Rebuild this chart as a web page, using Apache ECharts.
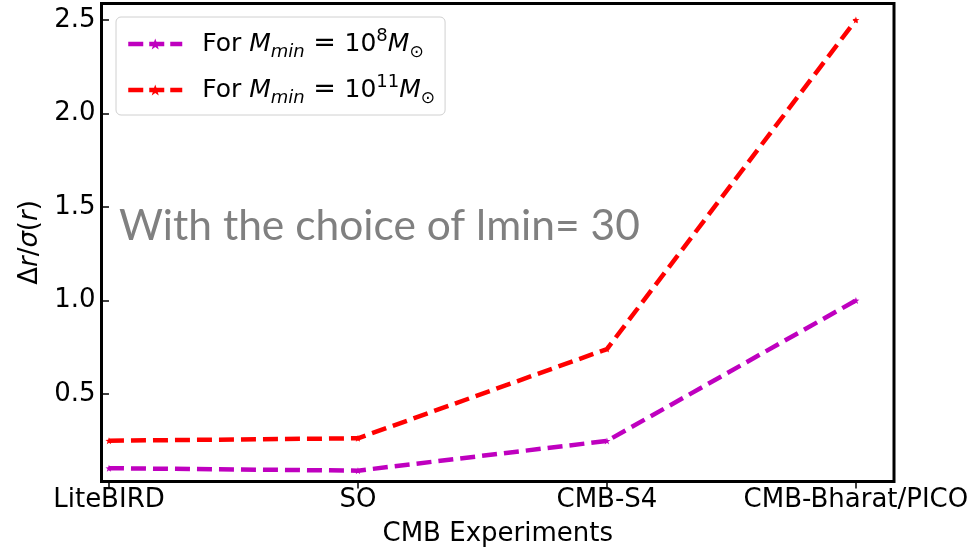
<!DOCTYPE html>
<html>
<head>
<meta charset="utf-8">
<script src="https://cdn.jsdelivr.net/npm/echarts@6/dist/echarts.min.js"></script>
<style>
html,body{margin:0;padding:0;background:#fff;}
#chart{width:979px;height:547px;}
</style>
</head>
<body>
<div id="chart"></div>
<script>
const categories = ['LiteBIRD', 'SO', 'CMB-S4', 'CMB-Bharat/PICO'];
const seriesNames = ['Mmin8', 'Mmin11'];
const valuesM8 = [0.103, 0.090, 0.249, 1.0];
const valuesM11 = [0.250, 0.263, 0.74, 2.5];
const yTicks = [0.5, 1.0, 1.5, 2.0, 2.5];
const xTicks = [0, 1, 2, 3];

const star = 'path://M0,-10 L2.4,-3.2 9.5,-3.1 3.8,1.2 5.9,8.1 0,4 -5.9,8.1 -3.8,1.2 -9.5,-3.1 -2.4,-3.2 Z';
const font = 'DejaVu Sans';

const chart = echarts.init(document.getElementById('chart'), null, {renderer: 'canvas'});

function pairs(vals) { return vals.map((v, i) => [i, v]); }

const legendLabels = {
  Mmin8: '{n|For }{i|M}{s|min}{e| = }{n|10}{p|8}{i|M}{o|⊙}',
  Mmin11: '{n|For }{i|M}{s|min}{e| = }{n|10}{p|11}{i|M}{o|⊙}'
};

chart.setOption({
  animation: false,
  backgroundColor: '#fff',
  grid: {
    left: 101.5, right: 85, top: 3.5, bottom: 65.5,
    outerBoundsMode: 'none',
    containLabel: false,
    show: true, borderColor: '#000', borderWidth: 3, backgroundColor: '#fff'
  },
  legend: {
    data: seriesNames,
    orient: 'vertical',
    left: 116, top: 17,
    padding: [10, 10, 8, 10],
    itemGap: 12,
    itemWidth: 54, itemHeight: 14,
    borderColor: '#d0d0d0', borderWidth: 1, borderRadius: 5,
    backgroundColor: 'rgba(255,255,255,0.8)',
    lineStyle: {width: 4.5, type: [15, 6]},
    formatter: name => legendLabels[name],
    textStyle: {
      fontFamily: font,
      color: '#000',
      padding: [0, 0, 0, 15],
      rich: {
        n: {fontFamily: font, fontSize: 25, color: '#000', lineHeight: 34},
        e: {fontFamily: font, fontSize: 27, color: '#000', lineHeight: 34},
        i: {fontFamily: font, fontStyle: 'italic', fontSize: 25, color: '#000', lineHeight: 34},
        s: {fontFamily: font, fontStyle: 'italic', fontSize: 18, color: '#000', lineHeight: 16, verticalAlign: 'bottom'},
        o: {fontFamily: font, fontSize: 17, color: '#000', lineHeight: 18, verticalAlign: 'bottom'},
        p: {fontFamily: font, fontSize: 18, color: '#000', lineHeight: 18, verticalAlign: 'top'}
      }
    }
  },
  xAxis: {
    type: 'value',
    min: -0.03, max: 3.153,
    name: 'CMB Experiments',
    nameLocation: 'middle',
    nameGap: 40,
    nameTextStyle: {fontFamily: font, fontSize: 26, color: '#000'},
    axisLine: {show: false},
    splitLine: {show: false},
    axisTick: {show: true, inside: false, length: 7, lineStyle: {color: '#000', width: 1.5}, customValues: xTicks},
    axisLabel: {
      customValues: xTicks,
      fontFamily: font, fontSize: 26, color: '#000', margin: 6,
      formatter: v => categories[Math.round(v)]
    }
  },
  yAxis: {
    type: 'value',
    min: 0.032, max: 2.588,
    name: '{a|Δ}{b|r}{a|/}{b|σ}{a|(}{b|r}{a|)}',
    nameLocation: 'middle',
    nameGap: 52,
    nameRotate: 90,
    nameTextStyle: {
      fontFamily: font, fontSize: 26, color: '#000',
      rich: {
        a: {fontFamily: font, fontSize: 26, color: '#000'},
        b: {fontFamily: font, fontSize: 26, fontStyle: 'italic', color: '#000'}
      }
    },
    axisLine: {show: false},
    splitLine: {show: false},
    axisTick: {show: true, inside: false, length: 7, lineStyle: {color: '#000', width: 1.5}, customValues: yTicks},
    axisLabel: {
      customValues: yTicks,
      fontFamily: font, fontSize: 26, color: '#000', margin: 6,
      formatter: v => v.toFixed(1)
    }
  },
  graphic: [{
    type: 'text',
    left: 119, top: 205,
    z: 1,
    style: {
      text: 'With the choice of lmin= 30',
      fontFamily: 'Lato',
      fontSize: 42.5,
      fill: '#808080'
    }
  }],
  series: [
    {
      name: 'Mmin8', type: 'line',
      data: pairs(valuesM8),
      color: '#bf00bf',
      lineStyle: {color: '#bf00bf', width: 4.5, type: [15, 7]},
      itemStyle: {color: '#bf00bf'},
      symbol: star, symbolSize: 7, showSymbol: true,
      z: 3
    },
    {
      name: 'Mmin11', type: 'line',
      data: pairs(valuesM11),
      color: '#ff0000',
      lineStyle: {color: '#ff0000', width: 4.5, type: [15, 7]},
      itemStyle: {color: '#ff0000'},
      symbol: star, symbolSize: 7, showSymbol: true,
      z: 3
    }
  ]
});
</script>
</body>
</html>
